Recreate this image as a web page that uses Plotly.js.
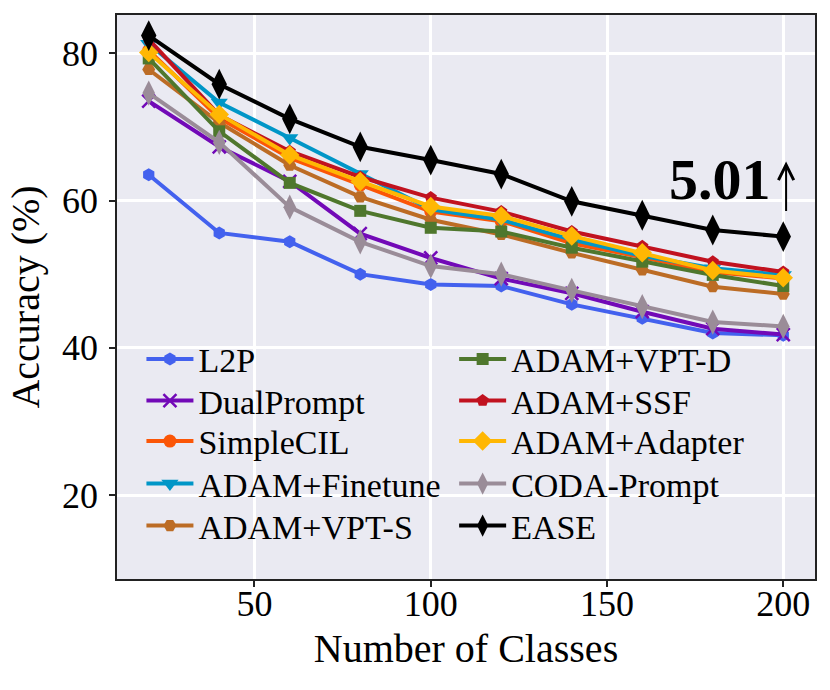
<!DOCTYPE html>
<html>
<head>
<meta charset="utf-8">
<script src="https://cdn.plot.ly/plotly-3.0.1.min.js"></script>
<style>body{margin:0;background:#fff}</style>
</head>
<body>
<div id="myDiv" style="width:830px;height:690px;"></div>
<script>
var classes = [20, 40, 60, 80, 100, 120, 140, 160, 180, 200];

var l2p        = [63.5, 55.6, 54.4, 50.0, 48.6, 48.4, 45.9, 44.0, 42.0, 41.7];
var dualPrompt = [73.5, 67.3, 62.6, 55.5, 52.2, 49.4, 47.4, 44.9, 42.6, 41.8];
var simpleCIL  = [80.4, 71.2, 65.8, 62.1, 58.5, 57.2, 54.2, 52.3, 50.3, 49.4];
var finetune   = [81.3, 73.3, 68.5, 63.6, 58.8, 57.4, 54.7, 52.5, 50.8, 49.9];
var vptS       = [77.8, 70.6, 64.8, 60.5, 57.4, 55.4, 52.9, 50.6, 48.3, 47.3];
var vptD       = [79.3, 69.4, 62.4, 58.6, 56.3, 55.8, 53.6, 51.7, 49.9, 48.4];
var ssf        = [81.9, 71.6, 66.7, 63.2, 60.4, 58.5, 55.8, 53.8, 51.7, 50.3];
var adapter    = [80.1, 71.7, 66.2, 62.6, 59.2, 57.9, 55.2, 52.9, 50.5, 49.5];
var coda       = [74.6, 67.9, 59.1, 54.4, 51.1, 50.0, 47.8, 45.6, 43.5, 42.9];
var ease       = [82.4, 75.8, 71.1, 67.3, 65.5, 63.6, 59.9, 58.0, 56.0, 55.1];

var gainText = '5.01';

var font = 'Liberation Serif, Times New Roman, serif';

function line(name, y, color, symbol, size, legend, extra) {
  var t = {
    x: classes,
    y: y,
    name: name,
    type: 'scatter',
    mode: 'lines+markers',
    legend: legend,
    line: {color: color, width: 4},
    marker: {color: color, symbol: symbol, size: size, line: {width: 0, color: color}}
  };
  if (extra) t.marker.line = extra;
  return t;
}

var data = [
  line('L2P', l2p, '#4361ee', 'hexagon', 13, 'legend'),
  line('DualPrompt', dualPrompt, '#7209b7', 'x-thin-open', 13, 'legend2', {width: 2.5, color: '#7209b7'}),
  line('SimpleCIL', simpleCIL, '#fb5607', 'circle', 13, 'legend3'),
  line('ADAM+Finetune', finetune, '#0096c7', 'triangle-down', 15, 'legend4'),
  line('ADAM+VPT-S', vptS, '#bc6c25', 'hexagon2', 13, 'legend5'),
  line('ADAM+VPT-D', vptD, '#4f772d', 'square', 12, 'legend6'),
  line('ADAM+SSF', ssf, '#c1121f', 'pentagon', 13, 'legend7'),
  line('ADAM+Adapter', adapter, '#ffb703', 'diamond', 15, 'legend8'),
  line('CODA-Prompt', coda, '#9a8c98', 'diamond-tall', 18, 'legend9'),
  line('EASE', ease, '#000000', 'diamond-tall', 22, 'legend10')
];

// one small legend per entry so the rows can sit as tight as in the figure
var rowPx = [359.5, 401, 441.5, 484, 526];
function legendAt(col, row) {
  return {
    x: col === 0 ? 0.035 : 0.483,
    xanchor: 'left',
    y: (579 - rowPx[row]) / 564,
    yanchor: 'middle',
    bgcolor: 'rgba(0,0,0,0)',
    borderwidth: 0,
    itemwidth: 47,
    font: {family: font, size: 34, color: '#000'}
  };
}

var layout = {
  width: 830,
  height: 690,
  margin: {l: 117, r: 15, t: 15, b: 111},
  paper_bgcolor: '#ffffff',
  plot_bgcolor: '#eaeaf2',
  font: {family: font, color: '#000'},
  showlegend: true,
  legend: legendAt(0, 0),
  legend2: legendAt(0, 1),
  legend3: legendAt(0, 2),
  legend4: legendAt(0, 3),
  legend5: legendAt(0, 4),
  legend6: legendAt(1, 0),
  legend7: legendAt(1, 1),
  legend8: legendAt(1, 2),
  legend9: legendAt(1, 3),
  legend10: legendAt(1, 4),
  xaxis: {
    range: [11, 209],
    tickvals: [50, 100, 150, 200],
    showgrid: true,
    gridcolor: '#ffffff',
    gridwidth: 3,
    zeroline: false,
    showline: true,
    mirror: true,
    linecolor: '#222',
    linewidth: 1.5,
    ticks: 'outside',
    ticklen: 6,
    tickwidth: 1.5,
    tickcolor: '#222',
    ticklabelstandoff: -14,
    tickfont: {family: font, size: 36, color: '#000'},
    title: {text: 'Number of Classes', font: {family: font, size: 40, color: '#000'}, standoff: 11}
  },
  yaxis: {
    range: [8.6, 85.2],
    tickvals: [20, 40, 60, 80],
    showgrid: true,
    gridcolor: '#ffffff',
    gridwidth: 3,
    zeroline: false,
    showline: true,
    mirror: true,
    linecolor: '#222',
    linewidth: 1.5,
    ticks: 'outside',
    ticklen: 6,
    tickwidth: 1.5,
    tickcolor: '#222',
    ticklabelstandoff: 4,
    tickfont: {family: font, size: 36, color: '#000'},
    title: {text: 'Accuracy (%)', font: {family: font, size: 40, color: '#000'}, standoff: 10}
  },
  annotations: [
    {
      x: 197.2,
      y: 62.9,
      xref: 'x',
      yref: 'y',
      xanchor: 'right',
      yanchor: 'middle',
      showarrow: false,
      text: '<b>' + gainText + '</b>',
      font: {family: font, size: 58, color: '#000'}
    },
    {
      // thin upward arrow next to the gain
      x: 200.8,
      y: 65.3,
      xref: 'x',
      yref: 'y',
      ax: 0,
      ay: 51,
      text: '',
      showarrow: true,
      arrowhead: 5,
      arrowsize: 1.5,
      arrowwidth: 2,
      arrowcolor: '#000'
    }
  ]
};

Plotly.newPlot('myDiv', data, layout, {displayModeBar: false});
</script>
</body>
</html>
